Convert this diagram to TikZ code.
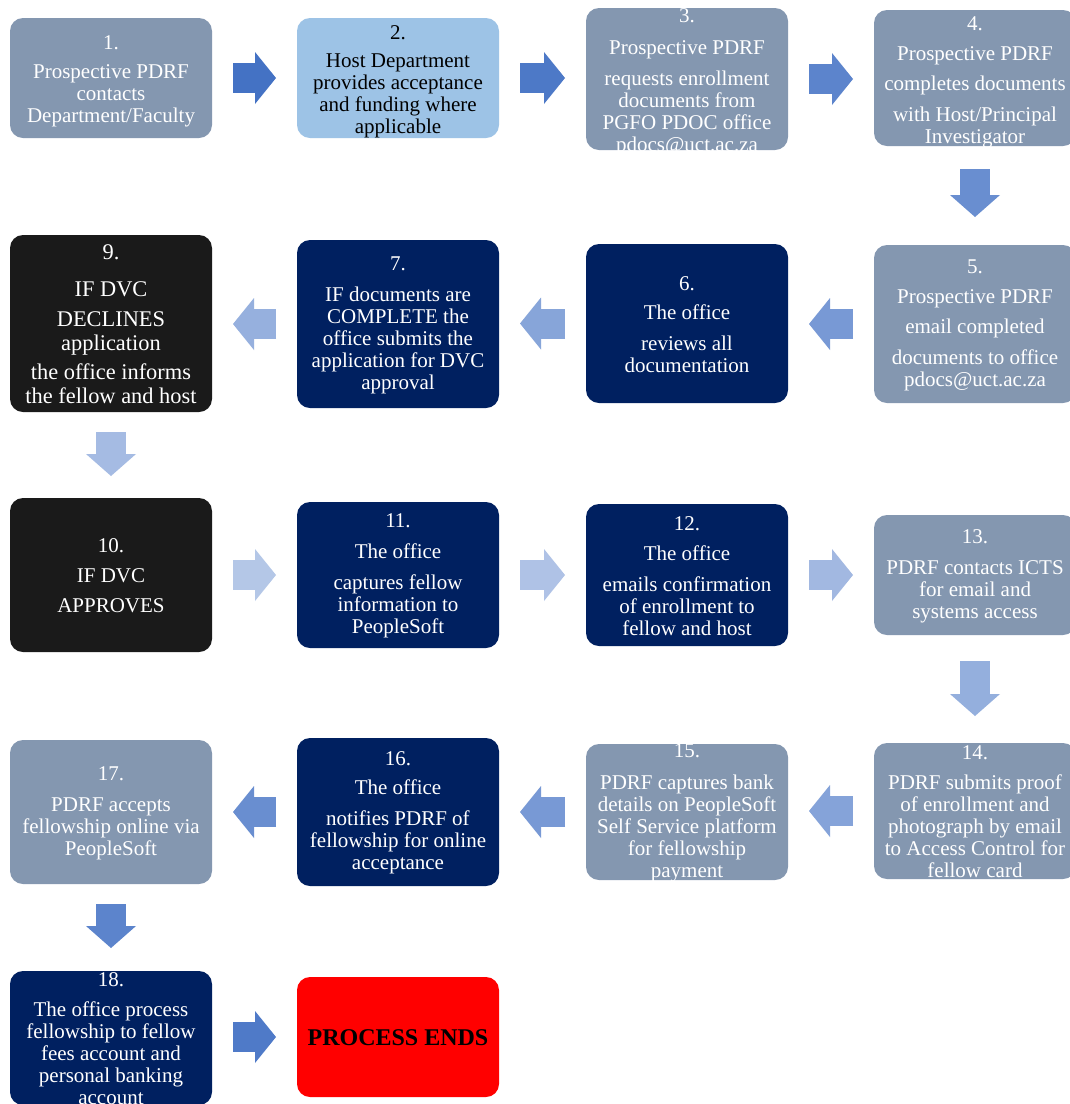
\documentclass[tikz,border=0pt]{standalone}
\usepackage{fontspec}
\setmainfont{Liberation Serif}
\usetikzlibrary{arrows.meta,calc}
\definecolor{slate}{HTML}{8497B0}
\definecolor{skyb}{HTML}{9DC3E6}
\definecolor{navy}{HTML}{002060}
\definecolor{blk}{HTML}{1A1A1A}
\definecolor{ablue}{HTML}{4472C4}
\tikzset{
  box/.style={rounded corners=13pt, inner sep=0pt, outer sep=0pt, draw=none, minimum width=202pt},
  txt/.style={align=center, inner sep=0pt, font=\fontsize{21}{22}\selectfont, text=white, yshift=-1pt},
  flow/.style={line width=30pt, draw=ablue!#1!white,
    -{Triangle[length=21pt,width=52pt,line width=0pt]}, shorten <=21pt, shorten >=21pt},
  dflow/.style={line width=30pt, draw=ablue!#1!white,
    -{Triangle[length=22pt,width=50pt,line width=0pt]}},
}
\begin{document}
\begin{tikzpicture}[x=1pt,y=-1pt]
\useasboundingbox (0,0) rectangle (1070,1104);
\fill[white] (0,0) rectangle (1070,1104);
\clip (0,0) rectangle (1070,1104);

% row 1
\node[box, fill=slate, minimum height=120pt] (b1) at (111,78) {};
\node[txt, yshift=-2pt] (t1) at (b1) {1.\\[7pt]Prospective PDRF\\contacts\\Department/Faculty};
\node[box, fill=skyb, minimum height=120pt] (b2) at (398,78) {};
\node[txt, text=black, yshift=-3pt] (t2) at (b2) {2.\\[6pt]Host Department\\provides acceptance\\and funding where\\applicable};
\node[box, fill=slate, minimum height=142pt] (b3) at (687,79) {};
\node[txt, yshift=-2pt] (t3) at (b3) {3.\\[10pt]Prospective PDRF\\[9pt]requests enrollment\\documents from\\PGFO PDOC office\\pdocs@uct.ac.za};
\node[box, fill=slate, minimum height=136pt] (b4) at (975,78) {};
\node[txt, yshift=-3pt] (t4) at (b4) {4.\\[8pt]Prospective PDRF\\[8pt]completes documents\\[9pt]with Host/Principal\\Investigator};

% row 2
\node[box, fill=slate, minimum height=158pt] (b5) at (975,324) {};
\node[txt] (t5) at (b5) {5.\\[8pt]Prospective PDRF\\[8pt]email completed\\[9pt]documents to office\\pdocs@uct.ac.za};
\node[box, fill=navy, minimum height=159pt] (b6) at (687,323.5) {};
\node[txt] (t6) at (b6) {6.\\[7pt]The office\\[9pt]reviews all\\documentation};
\node[box, fill=navy, minimum height=168pt] (b7) at (398,324) {};
\node[txt] (t7) at (b7) {7.\\[9pt]IF documents are\\COMPLETE the\\office submits the\\application for DVC\\approval};
\node[box, fill=blk, minimum height=177pt] (b9) at (111,323.5) {};
\node[txt, font=\fontsize{22.4}{24}\selectfont] (t9) at (b9) {9.\\[12.6pt]IF DVC\\[6pt]DECLINES\\application\\[5.5pt]the office informs\\the fellow and host};

% row 3
\node[box, fill=blk, minimum height=154pt] (b10) at (111,575) {};
\node[txt] (t10) at (b10) {10.\\[8pt]IF DVC\\[8pt]APPROVES};
\node[box, fill=navy, minimum height=146pt] (b11) at (398,575) {};
\node[txt] (t11) at (b11) {11.\\[9pt]The office\\[9pt]captures fellow\\information to\\PeopleSoft};
\node[box, fill=navy, minimum height=142pt] (b12) at (687,575) {};
\node[txt] (t12) at (b12) {12.\\[8pt]The office\\[9pt]emails confirmation\\of enrollment to\\fellow and host};
\node[box, fill=slate, minimum height=120pt] (b13) at (975,575) {};
\node[txt] (t13) at (b13) {13.\\[9pt]PDRF contacts ICTS\\for email and\\systems access};

% row 4
\node[box, fill=slate, minimum height=136pt] (b14) at (975,811) {};
\node[txt] (t14) at (b14) {14.\\[8pt]PDRF submits proof\\of enrollment and\\photograph by email\\to Access Control for\\fellow card};
\node[box, fill=slate, minimum height=136pt] (b15) at (687,812) {};
\node[txt] (t15) at (b15) {15.\\[10pt]PDRF captures bank\\details on PeopleSoft\\Self Service platform\\for fellowship\\payment};
\node[box, fill=navy, minimum height=148pt] (b16) at (398,812) {};
\node[txt] (t16) at (b16) {16.\\[7pt]The office\\[9pt]notifies PDRF of\\fellowship for online\\acceptance};
\node[box, fill=slate, minimum height=144pt] (b17) at (111,812) {};
\node[txt] (t17) at (b17) {17.\\[9pt]PDRF accepts\\fellowship online via\\PeopleSoft};

% row 5
\node[box, fill=navy, minimum height=134pt] (b18) at (111,1038) {};
\node[txt] (t18) at (b18) {18.\\[8pt]The office process\\fellowship to fellow\\fees account and\\personal banking\\account};
\node[box, fill=red, minimum height=120pt] (bend) at (398,1037) {};
\node[txt, text=black, font=\fontsize{24}{26}\selectfont\bfseries] (tend) at (bend) {PROCESS ENDS};

% connectors
\draw[flow=100] (b1.east) -- (b1.east -| b2.west);
\draw[flow=95]  (b2.east) -- (b2.east -| b3.west);
\draw[flow=87]  (b3.east) -- (b3.east -| b4.west);
\draw[dflow=80, shorten <=23pt, shorten >=28pt] (b4.south) -- (b4.south |- b5.north);
\draw[flow=72]  (b5.west) -- (b5.west -| b6.east);
\draw[flow=64]  (b6.west) -- (b6.west -| b7.east);
\draw[flow=56]  (b7.west) -- (b7.west -| b9.east);
\draw[dflow=48, shorten <=20pt, shorten >=22pt] (b9.south) -- (b9.south |- b10.north);
\draw[flow=40]  (b10.east) -- (b10.east -| b11.west);
\draw[flow=43]  (b11.east) -- (b11.east -| b12.west);
\draw[flow=50]  (b12.east) -- (b12.east -| b13.west);
\draw[dflow=57, shorten <=26pt, shorten >=27pt] (b13.south) -- (b13.south |- b14.north);
\draw[flow=65]  (b14.west) -- (b14.west -| b15.east);
\draw[flow=72]  (b15.west) -- (b15.west -| b16.east);
\draw[flow=80]  (b16.west) -- (b16.west -| b17.east);
\draw[dflow=87, shorten <=20pt, shorten >=23pt] (b17.south) -- (b17.south |- b18.north);
\draw[flow=94]  (b18.east |- bend.west) -- (bend.west);
\end{tikzpicture}
\end{document}
